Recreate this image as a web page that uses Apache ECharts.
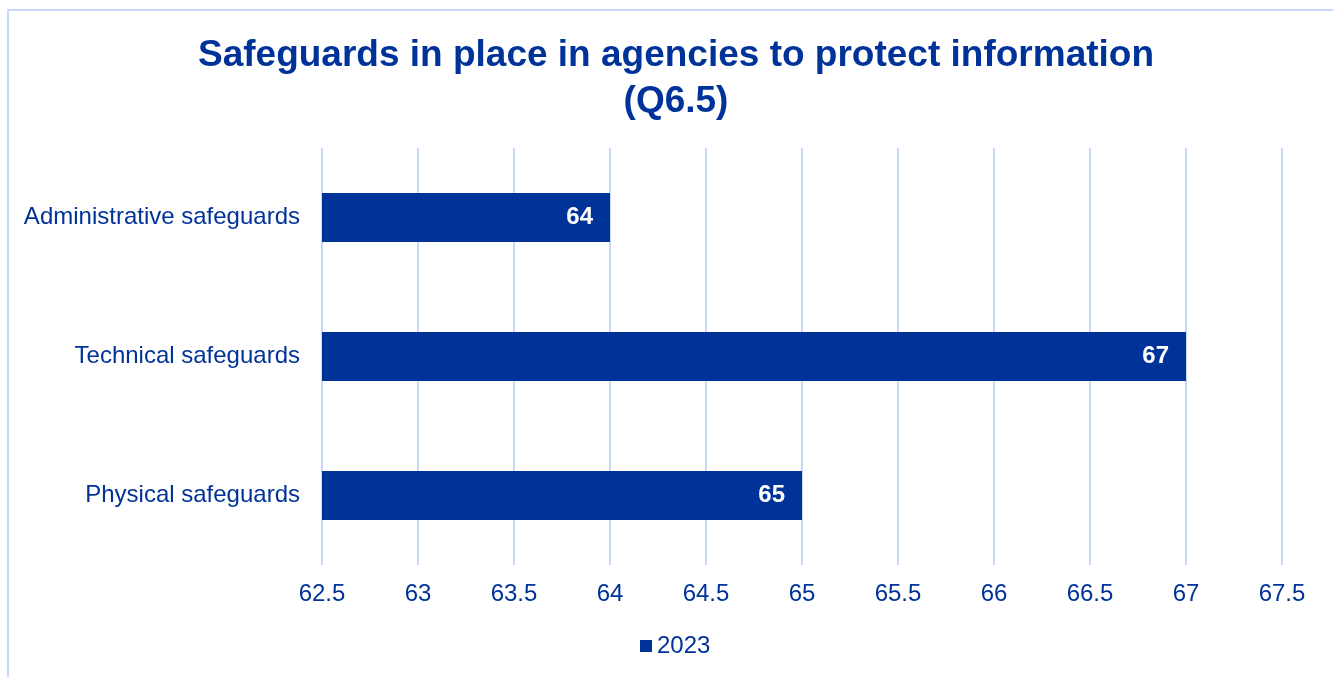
<!DOCTYPE html>
<html>
<head>
<meta charset="utf-8">
<script src="https://cdn.jsdelivr.net/npm/echarts@6/dist/echarts.min.js"></script>
<style>
  html, body { margin: 0; padding: 0; background: #ffffff; }
  #chart { width: 1333px; height: 677px; }
</style>
</head>
<body>
<div id="chart"></div>
<script>
// Safeguard categories, listed top to bottom
const categories = ['Administrative safeguards', 'Technical safeguards', 'Physical safeguards'];
// Share of agencies for each safeguard, 2023
const values2023 = [64, 67, 65];
const seriesName = '2023';
const axisMin = 62.5;
const axisMax = 67.5;
const axisStep = 0.5;

const blue = '#003399';
const gridBlue = '#c6d9fb';
const font = 'Liberation Sans, Arial, sans-serif';

const chart = echarts.init(document.getElementById('chart'));
chart.setOption({
  backgroundColor: '#ffffff',
  animation: false,
  graphic: [{
    type: 'rect',
    shape: { x: 8, y: 10, width: 1340, height: 700 },
    style: { fill: 'none', stroke: gridBlue, lineWidth: 2 },
    silent: true
  }],
  title: {
    text: 'Safeguards in place in agencies to protect information\n(Q6.5)',
    left: 671,
    top: 28,
    textAlign: 'center',
    textStyle: {
      color: blue,
      fontFamily: font,
      fontWeight: 'bold',
      fontSize: 37,
      lineHeight: 46
    }
  },
  legend: {
    data: [seriesName],
    bottom: 14,
    left: 635,
    icon: 'rect',
    itemWidth: 12,
    itemHeight: 12,
    textStyle: { color: blue, fontFamily: font, fontSize: 24 }
  },
  grid: { left: 322, right: 51, top: 148, bottom: 112, containLabel: false },
  xAxis: {
    type: 'value',
    min: axisMin,
    max: axisMax,
    interval: axisStep,
    axisLine: { show: false },
    axisTick: { show: false },
    axisLabel: { color: blue, fontFamily: font, fontSize: 24, margin: 17 },
    splitLine: { show: true, lineStyle: { color: gridBlue, width: 2 } }
  },
  yAxis: {
    type: 'category',
    data: categories,
    inverse: true,
    axisLine: { show: false },
    axisTick: { show: false },
    axisLabel: { color: blue, fontFamily: font, fontSize: 24, margin: 22 }
  },
  series: [{
    name: seriesName,
    type: 'bar',
    data: values2023,
    barWidth: 49,
    itemStyle: { color: blue },
    label: {
      show: true,
      position: 'insideRight',
      distance: 17,
      color: '#ffffff',
      fontFamily: font,
      fontWeight: 'bold',
      fontSize: 24
    }
  }]
});
</script>
</body>
</html>
